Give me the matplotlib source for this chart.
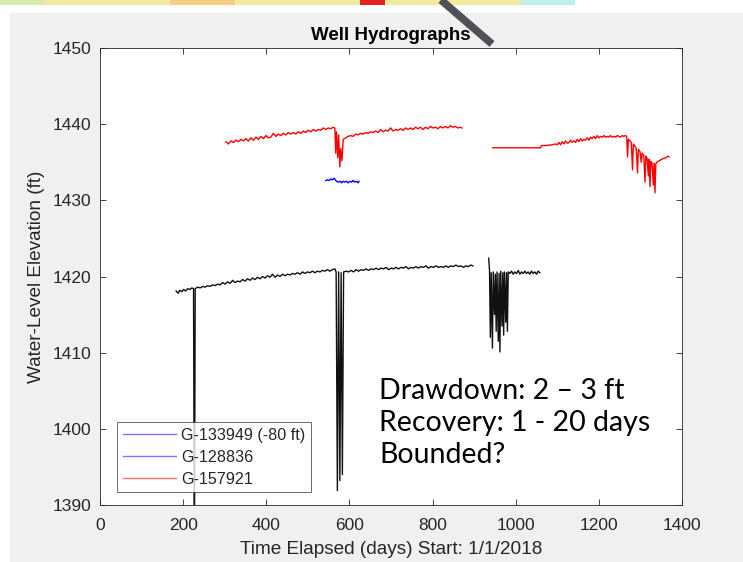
import matplotlib
matplotlib.use("Agg")
import matplotlib.pyplot as plt
from matplotlib.lines import Line2D
from matplotlib.patches import Rectangle

# ---- data: (day, elevation ft) ----
red_a = [(303, 1437.7), (309, 1437.4), (315, 1437.8), (321, 1437.6), (327, 1437.9), (333, 1437.7),
         (339, 1438.0), (345, 1437.8), (351, 1438.1), (357, 1437.8), (363, 1438.2), (369, 1437.9),
         (375, 1438.3), (381, 1438.0), (387, 1438.4), (393, 1438.1), (399, 1438.5), (405, 1438.2),
         (411, 1438.3), (417, 1438.8), (423, 1438.4), (429, 1438.7), (435, 1438.5), (441, 1438.8),
         (447, 1438.6), (453, 1438.9), (459, 1438.7), (465, 1438.9), (471, 1438.7), (477, 1439.0),
         (483, 1438.8), (489, 1439.1), (495, 1438.9), (501, 1439.2), (507, 1439.0), (513, 1439.3),
         (519, 1439.1), (525, 1439.3), (531, 1439.2), (537, 1439.5), (543, 1439.3), (549, 1439.5),
         (555, 1439.4), (561, 1439.6), (565, 1439.5), (567, 1436.2), (569, 1439.0), (572, 1435.6),
         (574, 1438.6), (577, 1434.4), (579, 1436.8), (582, 1435.2), (585, 1438.0), (591, 1438.2),
         (597, 1438.4), (603, 1438.5), (609, 1438.4), (615, 1438.7), (621, 1438.6), (627, 1438.8),
         (633, 1438.7), (639, 1438.9), (645, 1438.8), (651, 1439.0), (657, 1438.9), (663, 1439.1),
         (669, 1438.9), (675, 1439.3), (681, 1439.0), (687, 1439.2), (693, 1439.1), (699, 1439.5),
         (705, 1439.1), (711, 1439.3), (717, 1439.2), (723, 1439.4), (729, 1439.2), (735, 1439.5),
         (741, 1439.3), (747, 1439.5), (753, 1439.3), (759, 1439.6), (765, 1439.4), (771, 1439.6),
         (777, 1439.3), (783, 1439.6), (789, 1439.4), (795, 1439.7), (801, 1439.5), (807, 1439.6),
         (813, 1439.4), (819, 1439.7), (825, 1439.5), (831, 1439.7), (837, 1439.5), (843, 1439.8),
         (849, 1439.6), (855, 1439.7), (861, 1439.5), (867, 1439.6), (870, 1439.5)]

red_b = [(945, 1436.9), (1060, 1436.9), (1062, 1437.2), (1075, 1437.2), (1088, 1437.3), (1095, 1437.4),
         (1100, 1437.3), (1104, 1437.6), (1108, 1437.3), (1112, 1437.7), (1116, 1437.4), (1120, 1437.8),
         (1124, 1437.5), (1128, 1437.6), (1132, 1437.9), (1136, 1437.6), (1140, 1437.8), (1144, 1437.6),
         (1148, 1438.0), (1152, 1437.7), (1156, 1438.1), (1160, 1437.8), (1164, 1438.0), (1168, 1437.9),
         (1172, 1438.2), (1176, 1437.9), (1180, 1438.3), (1184, 1438.1), (1188, 1438.4), (1192, 1438.1),
         (1196, 1438.5), (1200, 1438.2), (1204, 1438.4), (1208, 1438.3), (1212, 1438.5), (1216, 1438.3),
         (1220, 1438.4), (1224, 1438.3), (1228, 1438.5), (1232, 1438.3), (1236, 1438.4), (1240, 1438.3),
         (1244, 1438.5), (1248, 1438.4), (1252, 1438.3), (1256, 1438.5), (1260, 1438.4), (1264, 1438.5),
         (1267, 1438.4), (1269, 1435.7), (1271, 1438.0), (1275, 1437.8), (1278, 1437.6), (1281, 1434.0),
         (1283, 1437.4), (1287, 1437.1), (1290, 1436.8), (1293, 1433.6), (1295, 1436.7), (1299, 1436.4),
         (1302, 1435.0), (1304, 1436.2), (1308, 1435.9), (1311, 1432.4), (1313, 1435.8), (1316, 1435.5),
         (1319, 1433.2), (1321, 1435.4), (1323, 1431.8), (1325, 1435.1), (1328, 1434.9), (1331, 1432.0),
         (1333, 1434.9), (1335, 1431.0), (1337, 1434.8), (1341, 1435.1), (1346, 1435.2), (1351, 1435.4),
         (1356, 1435.5), (1361, 1435.6), (1366, 1435.8), (1369, 1435.7)]

blue = [(543, 1432.6), (547, 1432.7), (551, 1432.6), (555, 1432.8), (559, 1432.7), (563, 1432.9),
        (566, 1432.7), (569, 1432.5), (573, 1432.4), (577, 1432.5), (581, 1432.3), (585, 1432.5),
        (589, 1432.4), (593, 1432.5), (597, 1432.3), (601, 1432.5), (605, 1432.4), (609, 1432.6),
        (613, 1432.4), (617, 1432.5), (621, 1432.3), (623, 1432.5)]

black_a = [(183, 1418.1), (188, 1417.8), (192, 1418.2), (197, 1418.0), (201, 1418.3), (206, 1418.1),
           (211, 1418.4), (216, 1418.3), (221, 1418.5), (225, 1418.4), (227, 1380.0), (229, 1418.4),
           (235, 1418.6), (241, 1418.5), (247, 1418.7), (253, 1418.6), (259, 1418.8), (265, 1418.7),
           (271, 1418.9), (277, 1418.8), (283, 1419.0), (289, 1418.9), (295, 1419.2), (301, 1419.0),
           (307, 1419.3), (313, 1419.1), (319, 1419.5), (325, 1419.2), (331, 1419.4), (337, 1419.3),
           (343, 1419.6), (349, 1419.4), (355, 1419.7), (361, 1419.5), (367, 1419.8), (373, 1419.6),
           (379, 1419.9), (385, 1419.7), (391, 1420.0), (397, 1419.8), (403, 1420.1), (409, 1419.9),
           (415, 1420.3), (421, 1419.9), (427, 1420.2), (433, 1420.0), (439, 1420.3), (445, 1420.1),
           (451, 1420.3), (457, 1420.2), (463, 1420.4), (469, 1420.3), (475, 1420.5), (481, 1420.3),
           (487, 1420.6), (493, 1420.4), (499, 1420.6), (505, 1420.5), (511, 1420.7), (517, 1420.5),
           (523, 1420.7), (529, 1420.6), (535, 1420.8), (541, 1420.7), (547, 1420.9), (553, 1420.7),
           (559, 1420.9), (565, 1421.0), (568, 1420.6), (571, 1391.9), (574, 1420.6), (577, 1393.2),
           (580, 1420.5), (583, 1394.0), (586, 1420.6), (592, 1420.7), (598, 1420.6), (604, 1420.8),
           (610, 1420.6), (616, 1420.9), (622, 1420.7), (628, 1420.9), (634, 1420.8), (640, 1421.0),
           (646, 1420.8), (652, 1421.0), (658, 1420.9), (664, 1421.1), (670, 1420.9), (676, 1421.1),
           (682, 1421.0), (688, 1421.2), (694, 1420.9), (700, 1421.1), (706, 1421.0), (712, 1421.2),
           (718, 1421.0), (724, 1421.2), (730, 1421.1), (736, 1421.3), (742, 1421.0), (748, 1421.2),
           (754, 1421.1), (760, 1421.3), (766, 1421.1), (772, 1421.3), (778, 1421.2), (784, 1421.4),
           (790, 1421.1), (796, 1421.3), (802, 1421.2), (808, 1421.4), (814, 1421.2), (820, 1421.3),
           (826, 1421.2), (832, 1421.4), (838, 1421.2), (844, 1421.4), (850, 1421.3), (856, 1421.5),
           (862, 1421.3), (868, 1421.4), (874, 1421.2), (880, 1421.4), (886, 1421.3), (892, 1421.5),
           (897, 1421.4)]

black_b = [(935, 1422.4), (937, 1420.8), (939, 1412.0), (941, 1420.5), (944, 1410.6), (946, 1420.6),
           (949, 1415.0), (951, 1420.3), (953, 1412.8), (955, 1420.6), (958, 1411.5), (960, 1420.4),
           (962, 1410.1), (964, 1420.7), (967, 1413.5), (969, 1420.5), (971, 1412.3), (973, 1420.6),
           (976, 1414.0), (978, 1420.5), (980, 1412.8), (982, 1420.6), (986, 1420.4), (990, 1420.7),
           (994, 1420.3), (998, 1420.6), (1002, 1420.4), (1006, 1420.8), (1010, 1420.3), (1014, 1420.6),
           (1018, 1420.4), (1022, 1420.7), (1026, 1420.4), (1030, 1420.6), (1034, 1420.3), (1038, 1420.7),
           (1042, 1420.4), (1046, 1420.6), (1050, 1420.3), (1054, 1420.7), (1058, 1420.5)]

legend_labels = ["G-133949 (-80 ft)", "G-128836", "G-157921"]
legend_colors = ["#7878ff", "#7878ff", "#ff7070"]
notes = ["Drawdown: 2 \u2013 3 ft", "Recovery: 1 - 20 days", "Bounded?"]
xticks = [0, 200, 400, 600, 800, 1000, 1200, 1400]
yticks = [1390, 1400, 1410, 1420, 1430, 1440, 1450]

W, H = 743, 562
plt.rcParams['font.family'] = ['Liberation Sans', 'DejaVu Sans']
fig = plt.figure(figsize=(W / 100, H / 100), dpi=100, facecolor='white')

# gray matlab figure panel + strip of the slide behind it
fig.patches.append(Rectangle((10 / W, 0), 1, 1 - 13 / H, transform=fig.transFigure,
                             facecolor='#f0f0f0', edgecolor='none', zorder=-5))
for x0, x1, c in [(0, 575, '#f2eb9e'), (0, 45, '#d9ecb0'), (170, 235, '#f6cf86'),
                  (360, 385, '#e52020'), (520, 575, '#bff0ea')]:
    fig.patches.append(Rectangle((x0 / W, 1 - 5 / H), (x1 - x0) / W, 5 / H,
                                 transform=fig.transFigure, facecolor=c, edgecolor='none', zorder=-5))

ax = fig.add_axes([100 / W, 1 - 505 / H, 582 / W, 457 / H])
ax.set_facecolor('white')

for seg, col in [(black_a, '#111111'), (black_b, '#111111'), (red_a, 'red'), (red_b, 'red'), (blue, 'blue')]:
    ax.plot([p[0] for p in seg], [p[1] for p in seg], color=col, lw=1.0)

ax.set_xlim(0, 1400)
ax.set_ylim(1390, 1450)
ax.set_xticks(xticks)
ax.set_yticks(yticks)
ax.tick_params(direction='in', top=True, right=True, length=4, width=0.6,
               labelsize=12.5, colors='#262626')
ax.tick_params(axis='x', pad=9)
ax.tick_params(axis='y', pad=6)
for s in ax.spines.values():
    s.set_color('#262626')
    s.set_linewidth(0.6)

ax.set_title("Well Hydrographs", fontsize=13.5, fontweight='bold', color='black', pad=6)
ax.set_xlabel("Time Elapsed (days) Start: 1/1/2018", fontsize=13.7, color='#262626', labelpad=6)
ax.set_ylabel("Water-Level Elevation (ft)", fontsize=13.7, color='#262626', labelpad=6)

handles = [Line2D([], [], color=c, lw=1) for c in legend_colors]
leg = ax.legend(handles, legend_labels, loc='lower left', bbox_to_anchor=(0.029, 0.028),
                borderaxespad=0, fontsize=11.6, frameon=True, fancybox=False,
                handlelength=3.3, handletextpad=0.35, labelspacing=0.42, borderpad=0.35)
leg.get_frame().set_edgecolor('#262626')
leg.get_frame().set_linewidth(0.6)
for t in leg.get_texts():
    t.set_color('#262626')

# slide annotation
for i, line in enumerate(notes):
    fig.text(379 / W, 1 - (399 + 32 * i) / H, line, fontsize=20.5, family=['Lato', 'DejaVu Sans'],
             color='black', va='baseline', ha='left')

# gray arrow from the slide
fig.add_artist(Line2D([441 / W, 492 / W], [1.0, 1 - 44 / H], transform=fig.transFigure,
                      color='#4f5156', lw=5.5, solid_capstyle='butt', zorder=10))

fig.savefig("out.png", dpi=100)
